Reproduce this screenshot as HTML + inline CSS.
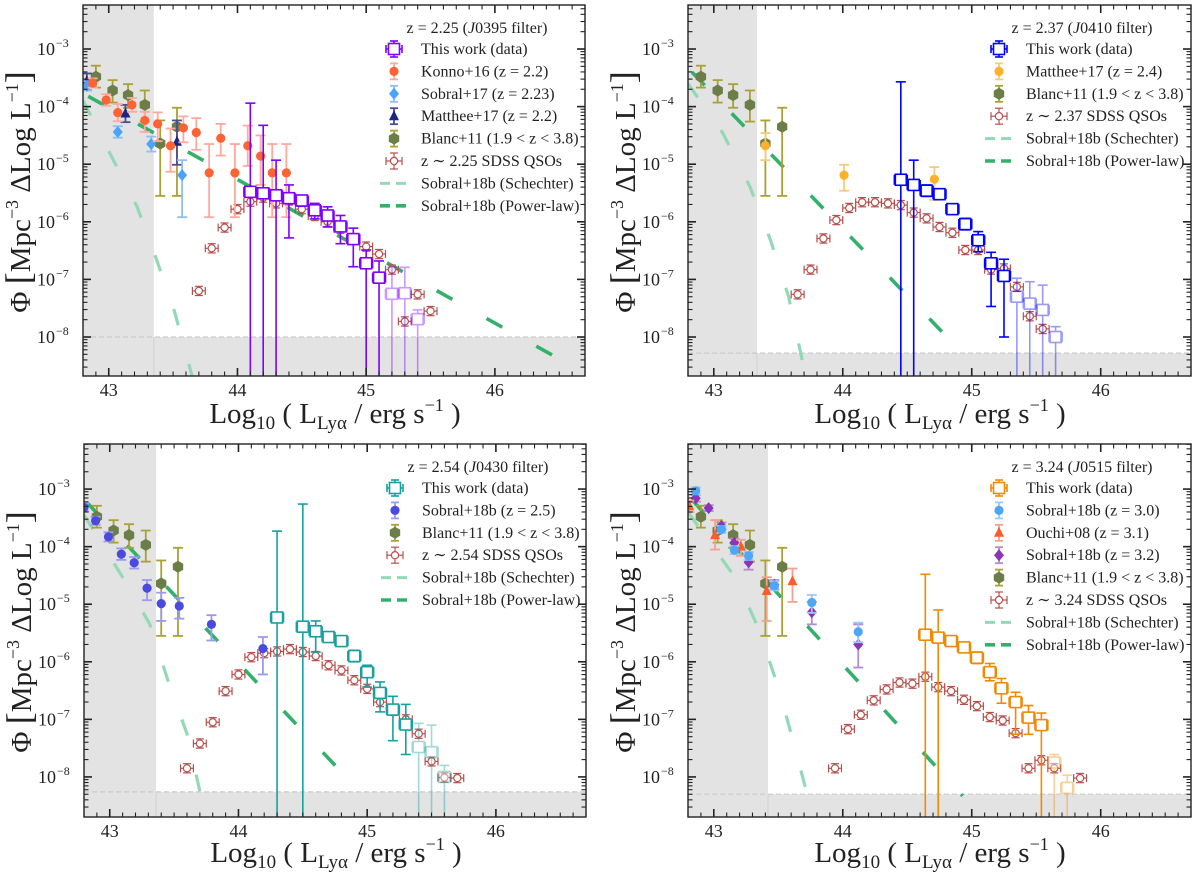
<!DOCTYPE html>
<html><head><meta charset="utf-8"><style>
html,body{margin:0;padding:0;background:#fff}
svg text{font-family:"Liberation Serif","DejaVu Serif",serif;fill:#222}
</style></head><body>
<svg id="fig" xmlns="http://www.w3.org/2000/svg" width="1200" height="876" viewBox="0 0 1200 876"></svg>
<script>
// ---------- DATA (log10 Phi) ----------
const blanc_x=[42.90,43.03,43.15,43.28,43.40,43.53];
const blanc_y=[-3.48,-3.72,-3.80,-3.97,-4.64,-4.35];
const blanc_up=[0.19,0.18,0.19,0.25,0.4,0.33];
const blanc_dn=[0.19,0.21,0.22,0.29,0.91,1.2];

const tl_work_x=[44.1,44.2,44.3,44.4,44.5,44.6,44.7,44.8,44.9,45.0,45.1,45.2,45.3,45.4];
const tl_work_y=[-5.48,-5.505,-5.54,-5.59,-5.63,-5.80,-5.89,-6.08,-6.30,-6.72,-6.97,-7.25,-7.24,-7.69];
const tl_work_up=[1.54,1.18,0.61,0.23,0.08,0.12,0.15,0.19,0.19,0.23,0.29,0.46,0.45,0.16];
const tl_work_dn=[null,null,null,0.69,0.1,0.15,0.2,0.3,0.48,null,null,null,null,null];
const tl_konno_x=[42.875,42.98,43.07,43.18,43.28,43.38,43.48,43.58,43.68,43.78,43.87,43.98,44.08,44.18,44.27,44.38];
const tl_konno_y=[-3.59,-3.885,-4.105,-3.97,-4.24,-4.30,-4.68,-4.37,-4.45,-5.15,-4.55,-5.15,-4.68,-4.86,-5.15,-5.15];
const tl_konno_up=[0.08,0.1,0.15,0.12,0.15,0.2,0.3,0.2,0.25,0.5,0.25,0.5,0.35,0.36,0.5,0.5];
const tl_konno_dn=[0.08,0.1,0.15,0.12,0.2,0.3,0.45,0.25,0.3,0.77,0.3,0.77,0.35,0.5,0.77,0.77];
const tl_s17_x=[42.83,43.07,43.33,43.57];
const tl_s17_y=[-3.64,-4.44,-4.65,-5.19];
const tl_s17_up=[0.08,0.1,0.13,0.26];
const tl_s17_dn=[0.08,0.1,0.13,0.73];
const tl_m17_x=[42.83,43.13,43.53];
const tl_m17_y=[-3.555,-4.12,-4.61];
const tl_m17_up=[0.13,0.15,0.37];
const tl_m17_dn=[0.16,0.15,0.4];
const tl_qso_x=[43.7,43.8,43.9,44.0,44.1,44.2,44.3,44.4,44.5,44.6,44.7,44.8,44.9,45.0,45.1,45.2,45.3,45.4,45.5];
const tl_qso_y=[-7.20,-6.46,-6.10,-5.78,-5.65,-5.58,-5.68,-5.63,-5.78,-5.90,-6.0,-6.12,-6.3,-6.43,-6.56,-6.83,-7.73,-7.26,-7.55];
const tl_sch_x=[42.8,43.02,43.22,43.37,43.51,43.65];
const tl_sch_y=[-3.89,-4.86,-5.74,-6.65,-7.55,-8.7];
const tl_pl_x=[42.8,46.7];
const tl_pl_y=[-3.77,-8.63];

const tr_work_x=[44.45,44.55,44.65,44.75,44.85,44.95,45.05,45.15,45.25,45.35,45.45,45.55,45.65];
const tr_work_y=[-5.27,-5.36,-5.46,-5.52,-5.78,-6.04,-6.32,-6.72,-6.94,-7.30,-7.42,-7.53,-8.0];
const tr_work_up=[1.7,0.43,0.1,0.05,0.05,0.1,0.15,0.19,0.29,0.32,0.38,0.43,0.18];
const tr_work_dn=[null,null,0.1,0.05,0.05,0.1,0.2,0.75,1.06,null,null,null,null];
const tr_m17_x=[43.4,44.01,44.71];
const tr_m17_y=[-4.68,-5.19,-5.26];
const tr_m17_up=[0.22,0.18,0.21];
const tr_m17_dn=[0.25,0.27,0.36];
const tr_qso_x=[43.65,43.75,43.85,43.95,44.05,44.15,44.25,44.35,44.45,44.55,44.65,44.75,44.85,44.95,45.05,45.15,45.25,45.35,45.45,45.55];
const tr_qso_y=[-7.26,-6.83,-6.29,-5.97,-5.76,-5.66,-5.66,-5.68,-5.71,-5.84,-5.94,-6.09,-6.19,-6.49,-6.49,-6.83,-6.81,-7.13,-7.64,-7.86];
const tr_sch_x=[42.8,43.07,43.28,43.44,43.58,43.69];
const tr_sch_y=[-3.6,-4.46,-5.39,-6.32,-7.30,-8.45];
const tr_pl_x=[42.8,44.95];
const tr_pl_y=[-3.33,-8.33];

const bl_work_x=[44.3,44.5,44.6,44.7,44.8,44.9,45.0,45.1,45.2,45.3,45.4,45.5,45.6];
const bl_work_y=[-5.23,-5.39,-5.47,-5.57,-5.64,-5.90,-6.18,-6.54,-6.83,-7.09,-7.48,-7.57,-8.0];
const bl_work_up=[1.5,2.13,0.18,0.06,0.06,0.1,0.12,0.19,0.23,0.35,0.41,0.47,0.2];
const bl_work_dn=[null,null,0.36,0.06,0.06,0.1,0.26,0.33,0.54,0.52,null,null,null];
const bl_s18_x=[42.80,42.89,42.99,43.09,43.19,43.29,43.40,43.54,43.79,44.19];
const bl_s18_y=[-3.32,-3.55,-3.83,-4.13,-4.28,-4.72,-4.99,-5.03,-5.35,-5.77];
const bl_s18_up=[0.07,0.07,0.08,0.1,0.1,0.14,0.19,0.14,0.16,0.2];
const bl_s18_dn=[0.07,0.07,0.08,0.1,0.1,0.21,0.3,0.22,0.28,0.45];
const bl_qso_x=[43.6,43.7,43.8,43.9,44.0,44.1,44.2,44.3,44.4,44.5,44.6,44.7,44.8,44.9,45.0,45.1,45.2,45.3,45.4,45.5,45.6,45.7];
const bl_qso_y=[-7.85,-7.42,-7.05,-6.51,-6.22,-5.92,-5.85,-5.82,-5.78,-5.83,-5.90,-6.06,-6.15,-6.32,-6.47,-6.70,-6.85,-7.0,-7.25,-7.73,-8.01,-8.02];
const bl_sch_x=[42.8,43.1,43.31,43.46,43.6,43.71];
const bl_sch_y=[-3.45,-4.53,-5.34,-6.38,-7.25,-8.35];
const bl_pl_x=[42.8,44.95];
const bl_pl_y=[-3.18,-8.27];

const br_work_x=[44.64,44.74,44.84,44.94,45.04,45.14,45.23,45.34,45.44,45.54,45.64,45.74];
const br_work_y=[-5.53,-5.58,-5.64,-5.75,-5.93,-6.18,-6.46,-6.70,-6.97,-7.10,-7.75,-8.19];
const br_work_up=[1.05,0.48,0.08,0.07,0.1,0.15,0.17,0.17,0.21,0.21,0.14,0.22];
const br_work_dn=[null,null,0.08,0.07,0.1,0.15,0.26,0.56,0.29,null,null,null];
const br_s30_x=[42.86,43.06,43.16,43.27,43.47,43.76,44.12];
const br_s30_y=[-3.03,-3.70,-4.06,-4.16,-4.68,-4.97,-5.48];
const br_s30_up=[0.06,0.06,0.07,0.07,0.08,0.13,0.16];
const br_s30_dn=[0.06,0.06,0.07,0.07,0.08,0.18,0.18];
const br_ouchi_x=[42.81,43.01,43.21,43.41,43.61];
const br_ouchi_y=[-3.30,-3.80,-4.0,-4.77,-4.6];
const br_ouchi_up=[0.1,0.26,0.12,0.24,0.22];
const br_ouchi_dn=[0.1,0.25,0.16,0.52,0.36];
const br_s32_x=[42.86,42.96,43.06,43.16,43.27,43.47,43.76,44.12];
const br_s32_y=[-3.16,-3.33,-3.64,-3.93,-4.27,-4.66,-5.14,-5.70];
const br_s32_up=[0.06,0.05,0.06,0.07,0.17,0.08,0.18,0.35];
const br_s32_dn=[0.06,0.05,0.06,0.07,0.13,0.08,0.21,0.4];
const br_qso_x=[43.94,44.04,44.14,44.24,44.34,44.44,44.54,44.64,44.74,44.84,44.94,45.04,45.14,45.24,45.34,45.44,45.54,45.64,45.84];
const br_qso_y=[-7.85,-7.17,-6.92,-6.67,-6.48,-6.36,-6.38,-6.26,-6.44,-6.51,-6.66,-6.77,-6.96,-7.02,-7.24,-7.85,-7.71,-7.85,-8.02];
const br_sch_x=[42.8,43.18,43.34,43.5,43.62,43.73];
const br_sch_y=[-3.4,-4.58,-5.39,-6.44,-7.42,-8.35];
const br_pl_x=[42.8,44.93];
const br_pl_y=[-3.11,-8.33];

const xTicks=[43,44,45,46];
const yTicks=[-8,-7,-6,-5,-4,-3];

// ---------- RENDER ----------
const NS='http://www.w3.org/2000/svg';
const svg=document.getElementById('fig');
function mk(tag,attrs,parent){const e=document.createElementNS(NS,tag);for(const k in attrs)e.setAttribute(k,attrs[k]);(parent||svg).appendChild(e);return e;}

const SCH='#93d9b5', PL='#33b06a', QSO='#b5504c';
const panels=[
 {id:'tl',x0:83,x1:585,y0:5,y1:376,yhi:-2.236,ylo:-8.677,thrX:43.35,thrY:-8.0,z:'2.25',f:'0395',wc:'#7f00ff',fade:45.15,
  lx:394,ly:49,cx:335,labY:423,ylabY:192,
  series:[['work',tl_work_x,tl_work_y,tl_work_up,tl_work_dn,'This work (data)'],
          ['konno',tl_konno_x,tl_konno_y,tl_konno_up,tl_konno_dn,'Konno+16 (z = 2.2)'],
          ['s17',tl_s17_x,tl_s17_y,tl_s17_up,tl_s17_dn,'Sobral+17 (z = 2.23)'],
          ['m17',tl_m17_x,tl_m17_y,tl_m17_up,tl_m17_dn,'Matthee+17 (z = 2.2)'],
          ['blanc',blanc_x,blanc_y,blanc_up,blanc_dn,'Blanc+11 (1.9 < z < 3.8)'],
          ['qso',tl_qso_x,tl_qso_y,null,null,'z ∼ 2.25 SDSS QSOs']],
  sch:[tl_sch_x,tl_sch_y],pl:[tl_pl_x,tl_pl_y]},
 {id:'tr',x0:688,x1:1191,y0:5,y1:376,yhi:-2.236,ylo:-8.677,thrX:43.335,thrY:-8.28,z:'2.37',f:'0410',wc:'#0000ff',fade:45.3,
  lx:999,ly:49,cx:940,labY:423,ylabY:192,
  series:[['work',tr_work_x,tr_work_y,tr_work_up,tr_work_dn,'This work (data)'],
          ['m17o',tr_m17_x,tr_m17_y,tr_m17_up,tr_m17_dn,'Matthee+17 (z = 2.4)'],
          ['blanc',blanc_x,blanc_y,blanc_up,blanc_dn,'Blanc+11 (1.9 < z < 3.8)'],
          ['qso',tr_qso_x,tr_qso_y,null,null,'z ∼ 2.37 SDSS QSOs']],
  sch:[tr_sch_x,tr_sch_y],pl:[tr_pl_x,tr_pl_y]},
 {id:'bl',x0:84,x1:586,y0:444,y1:817,yhi:-2.217,ylo:-8.696,thrX:43.36,thrY:-8.26,z:'2.54',f:'0430',wc:'#17a0a0',fade:45.35,
  lx:395,ly:488,cx:336,labY:862,ylabY:632,
  series:[['work',bl_work_x,bl_work_y,bl_work_up,bl_work_dn,'This work (data)'],
          ['s18b',bl_s18_x,bl_s18_y,bl_s18_up,bl_s18_dn,'Sobral+18b (z = 2.5)'],
          ['blanc',blanc_x,blanc_y,blanc_up,blanc_dn,'Blanc+11 (1.9 < z < 3.8)'],
          ['qso',bl_qso_x,bl_qso_y,null,null,'z ∼ 2.54 SDSS QSOs']],
  sch:[bl_sch_x,bl_sch_y],pl:[bl_pl_x,bl_pl_y]},
 {id:'br',x0:688,x1:1191,y0:444,y1:817,yhi:-2.217,ylo:-8.696,thrX:43.42,thrY:-8.3,z:'3.24',f:'0515',wc:'#f08a00',fade:45.6,
  lx:999,ly:488,cx:940,labY:862,ylabY:632,
  series:[['work',br_work_x,br_work_y,br_work_up,br_work_dn,'This work (data)'],
          ['s30',br_s30_x,br_s30_y,br_s30_up,br_s30_dn,'Sobral+18b (z = 3.0)'],
          ['ouchi',br_ouchi_x,br_ouchi_y,br_ouchi_up,br_ouchi_dn,'Ouchi+08 (z = 3.1)'],
          ['s32',br_s32_x,br_s32_y,br_s32_up,br_s32_dn,'Sobral+18b (z = 3.2)'],
          ['blanc',blanc_x,blanc_y,blanc_up,blanc_dn,'Blanc+11 (1.9 < z < 3.8)'],
          ['qso',br_qso_x,br_qso_y,null,null,'z ∼ 3.24 SDSS QSOs']],
  sch:[br_sch_x,br_sch_y],pl:[br_pl_x,br_pl_y]}
];

const STY={
 konno:{m:'circle',fill:'#ff6233',eb:'#ffa89c'},
 s17:{m:'diamond',fill:'#4aa3ff',eb:'#8fbff2'},
 m17:{m:'triangle',fill:'#1c2580',eb:'#4a4f8c'},
 m17o:{m:'circle',fill:'#ffb12a',eb:'#f3cc7c'},
 blanc:{m:'hex',fill:'#6b7e48',eb:'#a9a233'},
 s18b:{m:'circle',fill:'#4a4ae0',eb:'#9a9aee'},
 s30:{m:'circle',fill:'#4ea6f7',eb:'#9ccaf5'},
 ouchi:{m:'triangle',fill:'#ff5a2a',eb:'#f8a090'},
 s32:{m:'diamond',fill:'#8a35b8',eb:'#b48ad0'},
};

function drawMarker(g,type,cx,cy,fill,stroke){
  let e;
  if(type==='circle'){e=mk('circle',{cx:cx,cy:cy,r:4.6,fill:fill},g);}
  else if(type==='ocircle'){e=mk('circle',{cx:cx,cy:cy,r:3.6,fill:'#fff',stroke:stroke,'stroke-width':1.2},g);}
  else if(type==='square'){e=mk('rect',{x:cx-5.5,y:cy-5.5,width:11,height:11,fill:'#fff',stroke:stroke,'stroke-width':1.6},g);}
  else if(type==='diamond'){e=mk('polygon',{points:`${cx},${cy-6} ${cx+5},${cy} ${cx},${cy+6} ${cx-5},${cy}`,fill:fill},g);}
  else if(type==='triangle'){e=mk('polygon',{points:`${cx},${cy-6} ${cx+5},${cy+4} ${cx-5},${cy+4}`,fill:fill},g);}
  else {let p=[];for(let i=0;i<6;i++){const a=Math.PI/6+i*Math.PI/3;p.push((cx+6*Math.cos(a)).toFixed(1)+','+(cy+6*Math.sin(a)).toFixed(1));}
        e=mk('polygon',{points:p.join(' '),fill:fill},g);}
  return e;
}

panels.forEach(P=>{
  const xs=v=>P.x0+(v-42.8)/(46.7-42.8)*(P.x1-P.x0);
  const ys=v=>P.y0+(P.yhi-v)/(P.yhi-P.ylo)*(P.y1-P.y0);
  const g=mk('g',{});
  
  
  const cp=mk('clipPath',{id:'clip-'+P.id},g);
  mk('rect',{x:P.x0,y:P.y0,width:P.x1-P.x0,height:P.y1-P.y0},cp);
  const plot=mk('g',{'clip-path':`url(#clip-${P.id})`},g);
  
  
  // shading
  const sh1=mk('rect',{x:P.x0,y:P.y0,width:xs(P.thrX)-P.x0,height:P.y1-P.y0,fill:'#e3e3e3'},plot);
  
  
  const sh2=mk('rect',{x:P.x0,y:ys(P.thrY),width:P.x1-P.x0,height:P.y1-ys(P.thrY),fill:'#e3e3e3'},plot);
  
  
  const tl=mk('line',{x1:P.x0,x2:P.x1,y1:ys(P.thrY),y2:ys(P.thrY),stroke:'#c9c9c9','stroke-width':1.2,'stroke-dasharray':'5 3'},plot);
  
  
  const vl=mk('line',{x1:xs(P.thrX),x2:xs(P.thrX),y1:ys(P.thrY),y2:P.y1,stroke:'#d0d0d0','stroke-width':1},plot);
  
  
  // models
  const schP=mk('polyline',{points:P.sch[0].map((x,i)=>xs(x).toFixed(1)+','+ys(P.sch[1][i]).toFixed(1)).join(' '),fill:'none',stroke:SCH,'stroke-width':3.2,'stroke-dasharray':'17 40'},plot);
  
  
  const plP=mk('polyline',{points:P.pl[0].map((x,i)=>xs(x).toFixed(1)+','+ys(P.pl[1][i]).toFixed(1)).join(' '),fill:'none',stroke:PL,'stroke-width':3.6,'stroke-dasharray':'18 39','stroke-dashoffset':'-6'},plot);
  
  
  // series (draw in reverse so "this work" on top)
  const order=P.series.slice().reverse();
  order.forEach(S=>{
    const [key,X,Y,UP,DN]=S;
    const sg=mk('g',{},plot);
    
    
    X.forEach((x,i)=>{
      const cx=xs(x), cy=ys(Y[i]);
      const pg=mk('g',{},sg);
      
      
      if(key==='qso'){
        const up=0.08,dn=0.08;
        mk('line',{x1:cx,x2:cx,y1:ys(Y[i]+up),y2:ys(Y[i]-dn),stroke:QSO,'stroke-width':1.2},pg);
        mk('line',{x1:cx-4,x2:cx+4,y1:ys(Y[i]+up),y2:ys(Y[i]+up),stroke:QSO,'stroke-width':1.2},pg);
        mk('line',{x1:cx-4,x2:cx+4,y1:ys(Y[i]-dn),y2:ys(Y[i]-dn),stroke:QSO,'stroke-width':1.2},pg);
        const hx0=xs(x-0.05),hx1=xs(x+0.05);
        mk('line',{x1:hx0,x2:hx1,y1:cy,y2:cy,stroke:QSO,'stroke-width':1.2},pg);
        mk('line',{x1:hx0,x2:hx0,y1:cy-4,y2:cy+4,stroke:QSO,'stroke-width':1.2},pg);
        mk('line',{x1:hx1,x2:hx1,y1:cy-4,y2:cy+4,stroke:QSO,'stroke-width':1.2},pg);
        drawMarker(pg,'ocircle',cx,cy,'#fff',QSO);
      } else if(key==='work'){
        const col=P.wc;
        if(x>P.fade) pg.setAttribute('opacity','0.4');
        const yt=ys(Y[i]+UP[i]); const yb=DN[i]===null?P.y1+20:ys(Y[i]-DN[i]);
        mk('line',{x1:cx,x2:cx,y1:yt,y2:yb,stroke:col,'stroke-width':1.6},pg);
        mk('line',{x1:cx-5,x2:cx+5,y1:yt,y2:yt,stroke:col,'stroke-width':1.6},pg);
        if(DN[i]!==null) mk('line',{x1:cx-5,x2:cx+5,y1:yb,y2:yb,stroke:col,'stroke-width':1.6},pg);
        const hx0=xs(x-0.05),hx1=xs(x+0.05);
        mk('line',{x1:hx0,x2:hx1,y1:cy,y2:cy,stroke:col,'stroke-width':1.6},pg);
        mk('line',{x1:hx0,x2:hx0,y1:cy-5,y2:cy+5,stroke:col,'stroke-width':1.6},pg);
        mk('line',{x1:hx1,x2:hx1,y1:cy-5,y2:cy+5,stroke:col,'stroke-width':1.6},pg);
        drawMarker(pg,'square',cx,cy,'#fff',col);
      } else {
        const st=STY[key];
        const yt=ys(Y[i]+UP[i]), yb=ys(Y[i]-DN[i]);
        mk('line',{x1:cx,x2:cx,y1:yt,y2:yb,stroke:st.eb,'stroke-width':1.8},pg);
        mk('line',{x1:cx-5,x2:cx+5,y1:yt,y2:yt,stroke:st.eb,'stroke-width':1.8},pg);
        mk('line',{x1:cx-5,x2:cx+5,y1:yb,y2:yb,stroke:st.eb,'stroke-width':1.8},pg);
        drawMarker(pg,st.m,cx,cy,st.fill,null);
      }
    });
  });
  // frame & ticks
  const ax=mk('g',{stroke:'#222','stroke-width':1},g);
  
  
  mk('rect',{x:P.x0,y:P.y0,width:P.x1-P.x0,height:P.y1-P.y0,fill:'none','stroke-width':1.4},ax);
  for(let k=0;k<=39;k++){
    const v=42.8+k*0.1; const px=xs(v);
    const major=Math.abs(v-Math.round(v))<1e-6; const L=major?8:4.5;
    mk('line',{x1:px,x2:px,y1:P.y1,y2:P.y1-L,'stroke-width':major?1.6:1.1},ax);
    mk('line',{x1:px,x2:px,y1:P.y0,y2:P.y0+L,'stroke-width':major?1.6:1.1},ax);
  }
  for(let d=-9;d<=-2;d++){for(let m=1;m<=9;m++){
    const v=d+Math.log10(m); if(v<P.ylo||v>P.yhi) continue;
    const py=ys(v); const major=m===1; const L=major?8:4.5;
    mk('line',{x1:P.x0,x2:P.x0+L,y1:py,y2:py,'stroke-width':major?1.6:1.1},ax);
    mk('line',{x1:P.x1,x2:P.x1-L,y1:py,y2:py,'stroke-width':major?1.6:1.1},ax);
  }}
  xTicks.forEach(t=>{
    const tx=mk('text',{x:xs(t),y:P.y1+20,'text-anchor':'middle','font-size':18},g);
    tx.textContent=String(t);
    
    
  });
  yTicks.forEach(t=>{
    const ty=mk('text',{x:P.x0-28,y:ys(t)+6,'text-anchor':'end','font-size':18},g);
    ty.textContent='10';
    
    
    const sup=mk('text',{x:P.x0-27,y:ys(t)-2,'text-anchor':'start','font-size':12},g);
    sup.textContent='−'+(-t);
    
    
  });
  // axis titles
  const xl=mk('text',{x:P.cx,y:P.labY,'text-anchor':'middle','font-size':29},g);
  
  
  xl.innerHTML='Log<tspan font-size="19" dy="6">10</tspan><tspan dy="-6"> ( L</tspan><tspan font-size="19" dy="6">Lyα</tspan><tspan dy="-6"> / erg s</tspan><tspan font-size="18" dy="-12">−1</tspan><tspan dy="12"> )</tspan>';
  const ylx=P.x0-53;
  const yl=mk('text',{x:0,y:0,'text-anchor':'middle','font-size':29,transform:`translate(${ylx},${P.ylabY}) rotate(-90)`},g);
  
  
  yl.innerHTML='Φ  <tspan font-size="36">[</tspan>Mpc<tspan font-size="18" dy="-12">−3</tspan><tspan dy="12"> ΔLog L</tspan><tspan font-size="18" dy="-12">−1</tspan><tspan dy="12" font-size="36">]</tspan>';
  // legend
  const lg=mk('g',{},g);
  
  
  const tt=mk('text',{x:P.lx+83,y:P.ly-22+6,'text-anchor':'middle','font-size':16},lg);
  tt.innerHTML=`z = ${P.z} (<tspan font-style="italic">J</tspan>${P.f} filter)`;
  
  
  const entries=P.series.map(s=>[s[0],s[5]]).concat([['sch','Sobral+18b (Schechter)'],['pl','Sobral+18b (Power-law)']]);
  entries.forEach((E,i)=>{
    const yy=P.ly+i*22.4; const mx=P.lx;
    const eg=mk('g',{},lg);
    
    
    const k=E[0];
    if(k==='sch'||k==='pl'){
      mk('line',{x1:mx-14,x2:mx+14,y1:yy,y2:yy,stroke:k==='sch'?SCH:PL,'stroke-width':k==='sch'?3:3.6,'stroke-dasharray':'10 6'},eg);
    } else if(k==='work'||k==='qso'){
      const col=k==='work'?P.wc:QSO; const sw=k==='work'?1.6:1.2;
      mk('line',{x1:mx,x2:mx,y1:yy-8,y2:yy+8,stroke:col,'stroke-width':sw},eg);
      mk('line',{x1:mx-4,x2:mx+4,y1:yy-8,y2:yy-8,stroke:col,'stroke-width':sw},eg);
      mk('line',{x1:mx-4,x2:mx+4,y1:yy+8,y2:yy+8,stroke:col,'stroke-width':sw},eg);
      mk('line',{x1:mx-8,x2:mx+8,y1:yy,y2:yy,stroke:col,'stroke-width':sw},eg);
      mk('line',{x1:mx-8,x2:mx-8,y1:yy-4,y2:yy+4,stroke:col,'stroke-width':sw},eg);
      mk('line',{x1:mx+8,x2:mx+8,y1:yy-4,y2:yy+4,stroke:col,'stroke-width':sw},eg);
      drawMarker(eg,k==='work'?'square':'ocircle',mx,yy,'#fff',col);
    } else {
      const st=STY[k];
      mk('line',{x1:mx,x2:mx,y1:yy-8,y2:yy+8,stroke:st.eb,'stroke-width':1.8},eg);
      mk('line',{x1:mx-4,x2:mx+4,y1:yy-8,y2:yy-8,stroke:st.eb,'stroke-width':1.8},eg);
      mk('line',{x1:mx-4,x2:mx+4,y1:yy+8,y2:yy+8,stroke:st.eb,'stroke-width':1.8},eg);
      drawMarker(eg,st.m,mx,yy,st.fill,null);
    }
    const t=mk('text',{x:mx+27,y:yy+5,'font-size':16},eg);
    t.textContent=E[1];
    
    
  });
});
</script>
</body></html>
